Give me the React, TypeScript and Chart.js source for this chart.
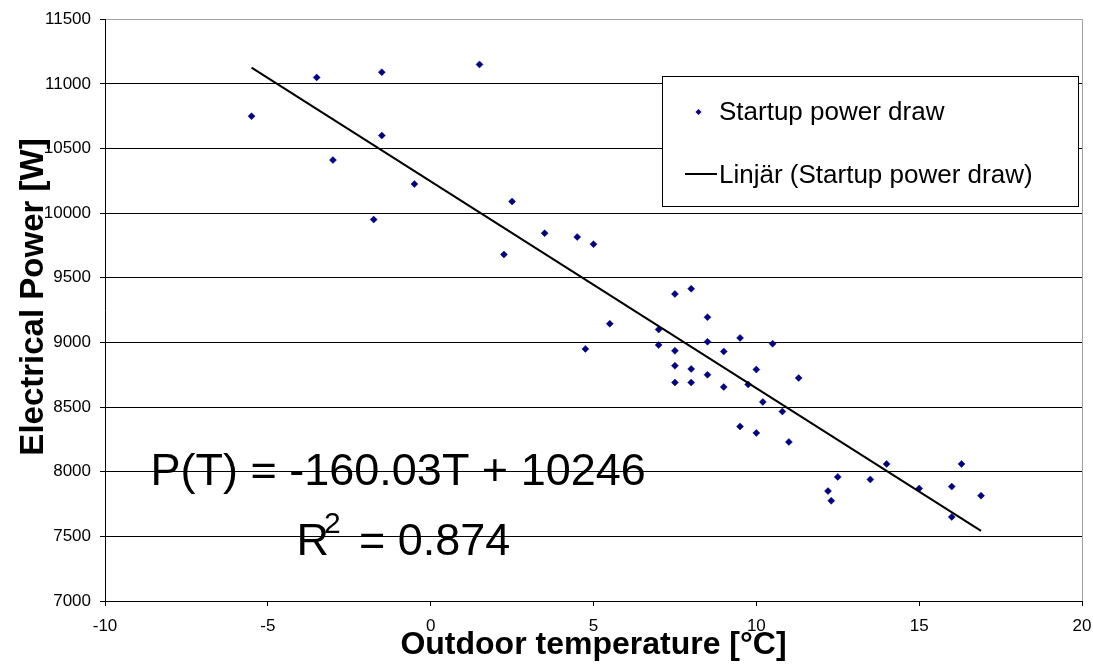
import React, { useEffect, useRef } from "react";
import { Chart, registerables } from "chart.js";

Chart.register(...registerables);

// Data
const tempC = [-5.5, -3.5, -1.5, 1.5, -1.5, -3, -0.5, -1.75, 2.5, 2.25, 3.5, 4.5, 5, 7.5, 8, 5.5, 4.75, 8.5, 7, 7, 7.5, 8.5, 9, 9.5, 10.5, 7.5, 8, 8.5, 10, 11.3, 7.5, 8, 9, 9.75, 10.2, 10.8, 9.5, 10, 11, 14, 16.3, 12.5, 13.5, 12.2, 12.3, 15, 16, 16.9, 16];
const powerW = [10750, 11050, 11090, 11150, 10600, 10410, 10225, 9950, 10090, 9680, 9845, 9815, 9760, 9375, 9415, 9145, 8950, 9195, 9100, 8980, 8935, 9005, 8930, 9035, 8990, 8820, 8795, 8750, 8790, 8725, 8690, 8690, 8655, 8675, 8540, 8465, 8350, 8300, 8230, 8060, 8060, 7960, 7940, 7850, 7775, 7870, 7885, 7815, 7650];

// Linear trend line end points
const trendX = [-5.5, 16.9];
const trendY = [11126, 7542];

const seriesLabel = "Startup power draw";
const trendLabel = "Linjär (Startup power draw)";
const xTitle = "Outdoor temperature [°C]";
const yTitle = "Electrical Power [W]";
const equationText = "P(T) = -160.03T + 10246";
const r2Text = "0.874";

const xMin = -10, xMax = 20, xStep = 5;
const yMin = 7000, yMax = 11500, yStep = 500;

const FONT = "'Liberation Sans', Arial, sans-serif";
const NAVY = "#000080";

const overlayPlugin = {
  id: "overlay",
  afterDraw(chart: any) {
    const ctx = chart.ctx as CanvasRenderingContext2D;
    ctx.save();
    // Y axis title
    ctx.save();
    ctx.translate(33.5, 297);
    ctx.rotate(-Math.PI / 2);
    ctx.font = `bold 33px ${FONT}`;
    ctx.fillStyle = "#000";
    ctx.textAlign = "center";
    ctx.textBaseline = "middle";
    ctx.fillText(yTitle, 0, 0);
    ctx.restore();

    // Equation text
    ctx.fillStyle = "#000";
    ctx.textAlign = "left";
    ctx.textBaseline = "alphabetic";
    ctx.font = `45px ${FONT}`;
    ctx.fillText(equationText, 150.5, 485);
    ctx.fillText("R", 296.5, 555);
    const rW = ctx.measureText("R").width;
    ctx.font = `30px ${FONT}`;
    ctx.fillText("2", 296.5 + rW - 5, 533);
    ctx.font = `45px ${FONT}`;
    ctx.fillText("= " + r2Text, 359, 555);

    // Legend
    const lx = 662.5, ly = 76.5, lw = 416, lh = 130;
    ctx.fillStyle = "#fff";
    ctx.fillRect(lx, ly, lw, lh);
    ctx.strokeStyle = "#000";
    ctx.lineWidth = 1;
    ctx.strokeRect(lx, ly, lw, lh);

    const ds = chart.data.datasets;
    // marker
    ctx.fillStyle = NAVY;
    ctx.beginPath();
    const mx = 698.5, my = 112, mr = 3;
    ctx.moveTo(mx - mr, my);
    ctx.lineTo(mx, my - mr);
    ctx.lineTo(mx + mr, my);
    ctx.lineTo(mx, my + mr);
    ctx.closePath();
    ctx.fill();
    ctx.fillStyle = "#000";
    ctx.font = `26px ${FONT}`;
    ctx.fillText(ds[0].label, 719, 120);
    // line
    ctx.strokeStyle = "#000";
    ctx.lineWidth = 2;
    ctx.beginPath();
    ctx.moveTo(685, 174);
    ctx.lineTo(717, 174);
    ctx.stroke();
    ctx.fillText(ds[1].label, 719, 183);
    ctx.restore();
  },
};

export default function App() {
  const ref = useRef<HTMLCanvasElement>(null);
  useEffect(() => {
    if (!ref.current) return;
    const points = tempC.map((t, i) => ({ x: t, y: powerW[i] }));
    const trend = trendX.map((t, i) => ({ x: t, y: trendY[i] }));
    const chart = new Chart(ref.current, {
      type: "scatter",
      data: {
        datasets: [
          {
            label: seriesLabel,
            data: points,
            pointStyle: "rectRot",
            pointRadius: 3.5,
            pointBorderWidth: 0.5,
            backgroundColor: NAVY,
            borderColor: NAVY,
            showLine: false,
            order: 1,
          } as any,
          {
            label: trendLabel,
            type: "line",
            data: trend,
            borderColor: "#000",
            borderWidth: 2,
            pointRadius: 0,
            fill: false,
            tension: 0,
            order: 0,
          } as any,
        ],
      },
      options: {
        responsive: false,
        animation: false,
        devicePixelRatio: 1,
        layout: { padding: { top: 19, right: 11, left: 0, bottom: 0 } },
        plugins: {
          legend: { display: false },
          tooltip: { enabled: false },
          title: { display: false },
        },
        scales: {
          x: {
            type: "linear",
            min: xMin,
            max: xMax,
            afterFit: (s: any) => {
              s.height = 68;
              s.paddingLeft = 0;
              s.paddingRight = 0;
            },
            ticks: {
              stepSize: xStep,
              color: "#000",
              font: { family: FONT, size: 17 },
              padding: 10,
              maxRotation: 0,
              callback: (v: any) => String(v),
            },
            grid: {
              color: (c: any) => (c.tick && c.tick.value === xMax ? "#a0a0a0" : "rgba(0,0,0,0)"),
              tickColor: "#000",
              tickLength: 5,
              lineWidth: 1,
            },
            border: { color: "#000", width: 1 },
            title: {
              display: true,
              text: xTitle,
              color: "#000",
              font: { family: FONT, size: 32, weight: "bold" },
              padding: { top: 0, bottom: 5 },
            },
          },
          y: {
            type: "linear",
            min: yMin,
            max: yMax,
            afterFit: (s: any) => {
              s.width = 105;
            },
            ticks: {
              stepSize: yStep,
              color: "#000",
              font: { family: FONT, size: 17 },
              padding: 9,
              callback: (v: any) => String(v),
            },
            grid: {
              color: (c: any) => (c.tick && c.tick.value === yMax ? "#a0a0a0" : "#000"),
              tickColor: "#000",
              tickLength: 5,
              lineWidth: 1,
            },
            border: { color: "#000", width: 1 },
          },
        },
      } as any,
      plugins: [overlayPlugin],
    });
    return () => chart.destroy();
  }, []);
  return (
    <div style={{ position: "absolute", left: 0, top: 0, width: 1093, height: 669, background: "#fff" }}>
      <canvas ref={ref} width={1093} height={669} style={{ display: "block", width: 1093, height: 669 }} />
    </div>
  );
}
